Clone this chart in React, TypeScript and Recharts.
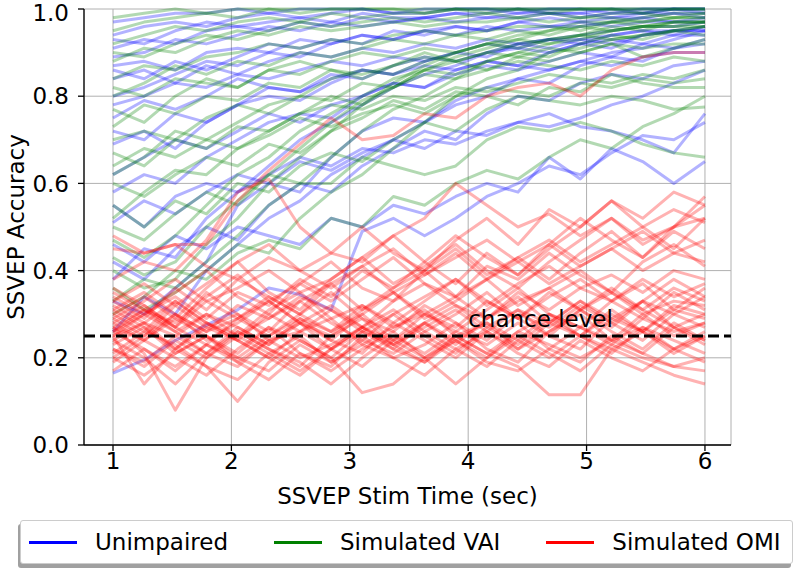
import React from 'react';
import { LineChart, Line, XAxis, YAxis, CartesianGrid, ReferenceLine, ReferenceDot } from 'recharts';

// stimulation time points (sec)
const stimTimes = [1, 1.263, 1.526, 1.789, 2.053, 2.316, 2.579, 2.842, 3.105, 3.368, 3.632, 3.895, 4.158, 4.421, 4.684, 4.947, 5.211, 5.474, 5.737, 6];
const xTicks = [1, 2, 3, 4, 5, 6];
const yTicks = [0, 0.2, 0.4, 0.6, 0.8, 1.0];
const chanceLevel = 0.25;

// one row per participant
const unimpaired = [
  [0.97, 0.98, 0.99, 0.99, 1.0, 0.99, 1.0, 1.0, 1.0, 0.99, 1.0, 1.0, 1.0, 1.0, 1.0, 1.0, 1.0, 1.0, 1.0, 1.0],
  [0.94, 0.96, 0.97, 0.96, 0.98, 0.99, 0.98, 0.99, 1.0, 0.99, 0.99, 1.0, 1.0, 0.99, 1.0, 1.0, 0.99, 1.0, 1.0, 1.0],
  [0.91, 0.93, 0.92, 0.95, 0.96, 0.95, 0.97, 0.96, 0.98, 0.97, 0.98, 0.99, 0.98, 0.99, 0.99, 0.98, 0.99, 0.99, 1.0, 0.99],
  [0.89, 0.9, 0.93, 0.92, 0.94, 0.96, 0.95, 0.97, 0.96, 0.97, 0.98, 0.97, 0.98, 0.98, 0.99, 0.99, 0.98, 0.99, 0.99, 0.98],
  [0.87, 0.88, 0.86, 0.9, 0.91, 0.9, 0.93, 0.92, 0.94, 0.93, 0.95, 0.94, 0.96, 0.95, 0.96, 0.97, 0.96, 0.97, 0.97, 0.97],
  [0.86, 0.84, 0.88, 0.86, 0.89, 0.92, 0.91, 0.93, 0.92, 0.95, 0.94, 0.96, 0.95, 0.97, 0.96, 0.96, 0.97, 0.98, 0.97, 0.98],
  [0.84, 0.86, 0.83, 0.87, 0.85, 0.88, 0.9, 0.89, 0.91, 0.9, 0.92, 0.91, 0.93, 0.92, 0.93, 0.93, 0.94, 0.95, 0.95, 0.95],
  [0.78, 0.8, 0.83, 0.82, 0.85, 0.84, 0.86, 0.88, 0.87, 0.89, 0.88, 0.9, 0.92, 0.91, 0.9, 0.92, 0.93, 0.92, 0.94, 0.94],
  [0.75, 0.79, 0.77, 0.8, 0.84, 0.82, 0.81, 0.84, 0.86, 0.85, 0.87, 0.86, 0.88, 0.87, 0.86, 0.88, 0.87, 0.89, 0.9, 0.9],
  [0.72, 0.7, 0.76, 0.74, 0.78, 0.82, 0.81, 0.85, 0.84, 0.87, 0.89, 0.88, 0.9, 0.92, 0.91, 0.93, 0.92, 0.94, 0.95, 0.95],
  [0.69, 0.72, 0.68, 0.74, 0.78, 0.8, 0.79, 0.83, 0.86, 0.85, 0.88, 0.9, 0.89, 0.92, 0.93, 0.92, 0.94, 0.95, 0.94, 0.96],
  [0.62, 0.66, 0.7, 0.68, 0.72, 0.76, 0.74, 0.78, 0.8, 0.83, 0.82, 0.85, 0.87, 0.86, 0.88, 0.9, 0.89, 0.92, 0.91, 0.93],
  [0.58, 0.62, 0.6, 0.66, 0.7, 0.74, 0.76, 0.75, 0.8, 0.83, 0.82, 0.86, 0.88, 0.87, 0.9, 0.92, 0.91, 0.94, 0.95, 0.96],
  [0.55, 0.5, 0.57, 0.6, 0.58, 0.62, 0.66, 0.64, 0.68, 0.67, 0.7, 0.69, 0.72, 0.74, 0.73, 0.75, 0.78, 0.8, 0.83, 0.86],
  [0.51, 0.56, 0.53, 0.58, 0.62, 0.6, 0.65, 0.63, 0.67, 0.7, 0.68, 0.72, 0.71, 0.74, 0.76, 0.73, 0.72, 0.7, 0.67, 0.76],
  [0.46, 0.42, 0.48, 0.45, 0.5, 0.48, 0.46, 0.52, 0.5, 0.55, 0.53, 0.57, 0.6, 0.58, 0.66, 0.61, 0.68, 0.65, 0.6, 0.65],
  [0.42, 0.38, 0.45, 0.5, 0.47, 0.55, 0.6, 0.58, 0.64, 0.68, 0.72, 0.7, 0.76, 0.8, 0.79, 0.83, 0.85, 0.84, 0.87, 0.88],
  [0.165, 0.195, 0.24, 0.275, 0.31, 0.36, 0.345, 0.31, 0.49, 0.52, 0.48, 0.52, 0.57, 0.6, 0.64, 0.62, 0.67, 0.71, 0.7, 0.74],
  [0.33, 0.3, 0.36, 0.42, 0.55, 0.6, 0.58, 0.66, 0.72, 0.75, 0.74, 0.79, 0.82, 0.84, 0.83, 0.87, 0.89, 0.88, 0.91, 0.92],
  [0.26, 0.34, 0.3, 0.4, 0.46, 0.52, 0.56, 0.62, 0.66, 0.7, 0.74, 0.78, 0.8, 0.84, 0.86, 0.88, 0.9, 0.91, 0.93, 0.95],
  [0.8, 0.82, 0.85, 0.88, 0.87, 0.9, 0.89, 0.92, 0.94, 0.93, 0.95, 0.96, 0.95, 0.97, 0.98, 0.97, 0.98, 0.98, 0.99, 0.99],
  [0.93, 0.92, 0.95, 0.97, 0.96, 0.97, 0.98, 0.97, 0.99, 0.98, 0.98, 0.99, 0.99, 1.0, 0.99, 0.99, 1.0, 0.99, 1.0, 1.0],
  [0.38, 0.45, 0.43, 0.52, 0.58, 0.64, 0.7, 0.74, 0.78, 0.82, 0.85, 0.87, 0.9, 0.91, 0.93, 0.94, 0.95, 0.96, 0.96, 0.97],
];

const simulatedVAI = [
  [0.98, 0.99, 1.0, 0.99, 1.0, 1.0, 1.0, 1.0, 1.0, 1.0, 1.0, 1.0, 1.0, 1.0, 1.0, 1.0, 1.0, 1.0, 1.0, 1.0],
  [0.95, 0.97, 0.98, 0.99, 0.98, 1.0, 0.99, 1.0, 1.0, 1.0, 0.99, 1.0, 1.0, 1.0, 1.0, 1.0, 1.0, 1.0, 1.0, 1.0],
  [0.92, 0.94, 0.96, 0.95, 0.97, 0.98, 0.97, 0.99, 0.98, 0.99, 0.99, 1.0, 0.99, 1.0, 0.99, 1.0, 1.0, 0.99, 1.0, 1.0],
  [0.9, 0.89, 0.92, 0.94, 0.93, 0.95, 0.97, 0.96, 0.97, 0.98, 0.97, 0.98, 0.99, 0.98, 0.99, 0.98, 0.99, 0.99, 0.98, 0.99],
  [0.88, 0.91, 0.9, 0.93, 0.95, 0.94, 0.96, 0.95, 0.96, 0.97, 0.96, 0.97, 0.97, 0.98, 0.97, 0.98, 0.98, 0.97, 0.98, 0.98],
  [0.84, 0.87, 0.86, 0.89, 0.9, 0.92, 0.91, 0.93, 0.92, 0.94, 0.95, 0.94, 0.95, 0.96, 0.96, 0.95, 0.97, 0.96, 0.97, 0.97],
  [0.8, 0.83, 0.87, 0.85, 0.88, 0.87, 0.9, 0.89, 0.91, 0.93, 0.92, 0.94, 0.93, 0.95, 0.94, 0.96, 0.95, 0.96, 0.96, 0.96],
  [0.77, 0.74, 0.8, 0.84, 0.82, 0.86, 0.85, 0.88, 0.9, 0.89, 0.91, 0.9, 0.92, 0.93, 0.92, 0.94, 0.93, 0.94, 0.95, 0.94],
  [0.73, 0.78, 0.76, 0.8, 0.79, 0.83, 0.82, 0.86, 0.85, 0.87, 0.89, 0.88, 0.9, 0.89, 0.91, 0.9, 0.92, 0.91, 0.92, 0.92],
  [0.7, 0.72, 0.7, 0.75, 0.78, 0.76, 0.8, 0.79, 0.83, 0.82, 0.85, 0.84, 0.86, 0.88, 0.87, 0.86, 0.88, 0.87, 0.89, 0.88],
  [0.67, 0.64, 0.7, 0.68, 0.73, 0.72, 0.76, 0.78, 0.77, 0.8, 0.79, 0.82, 0.81, 0.83, 0.85, 0.84, 0.83, 0.85, 0.84, 0.86],
  [0.64, 0.68, 0.66, 0.7, 0.68, 0.71, 0.75, 0.73, 0.76, 0.78, 0.76, 0.8, 0.82, 0.81, 0.8, 0.83, 0.82, 0.84, 0.83, 0.84],
  [0.6, 0.57, 0.62, 0.66, 0.64, 0.69, 0.67, 0.72, 0.75, 0.79, 0.77, 0.81, 0.8, 0.78, 0.82, 0.81, 0.85, 0.83, 0.82, 0.82],
  [0.55, 0.5, 0.56, 0.53, 0.6, 0.58, 0.64, 0.67, 0.65, 0.7, 0.74, 0.72, 0.77, 0.8, 0.79, 0.78, 0.8, 0.79, 0.77, 0.775],
  [0.5, 0.47, 0.53, 0.58, 0.55, 0.62, 0.6, 0.6, 0.66, 0.64, 0.62, 0.64, 0.7, 0.73, 0.72, 0.74, 0.72, 0.69, 0.67, 0.66],
  [0.47, 0.43, 0.48, 0.55, 0.62, 0.66, 0.72, 0.76, 0.8, 0.84, 0.86, 0.88, 0.9, 0.92, 0.93, 0.94, 0.95, 0.96, 0.97, 0.97],
  [0.43, 0.39, 0.42, 0.5, 0.56, 0.62, 0.68, 0.74, 0.79, 0.82, 0.86, 0.89, 0.91, 0.93, 0.95, 0.96, 0.97, 0.97, 0.98, 0.98],
  [0.4, 0.36, 0.38, 0.46, 0.52, 0.6, 0.66, 0.72, 0.78, 0.83, 0.87, 0.9, 0.92, 0.94, 0.95, 0.97, 0.97, 0.98, 0.99, 0.99],
  [0.36, 0.31, 0.35, 0.4, 0.46, 0.44, 0.52, 0.58, 0.62, 0.68, 0.74, 0.8, 0.84, 0.86, 0.9, 0.91, 0.93, 0.94, 0.95, 0.96],
  [0.33, 0.38, 0.36, 0.42, 0.48, 0.55, 0.6, 0.66, 0.72, 0.77, 0.8, 0.84, 0.88, 0.9, 0.92, 0.93, 0.95, 0.96, 0.96, 0.97],
  [0.3, 0.34, 0.4, 0.38, 0.44, 0.47, 0.45, 0.52, 0.5, 0.57, 0.55, 0.6, 0.63, 0.61, 0.66, 0.7, 0.68, 0.73, 0.76, 0.8],
  [0.82, 0.8, 0.84, 0.83, 0.82, 0.86, 0.88, 0.86, 0.84, 0.87, 0.9, 0.88, 0.86, 0.89, 0.88, 0.9, 0.92, 0.89, 0.91, 0.93],
  [0.62, 0.66, 0.72, 0.7, 0.74, 0.78, 0.8, 0.84, 0.86, 0.85, 0.88, 0.9, 0.92, 0.91, 0.93, 0.94, 0.96, 0.95, 0.97, 0.97],
  [0.52, 0.58, 0.63, 0.62, 0.68, 0.72, 0.76, 0.8, 0.78, 0.82, 0.86, 0.85, 0.88, 0.9, 0.89, 0.92, 0.94, 0.93, 0.95, 0.96],
];

const simulatedOMI = [
  [0.25, 0.28, 0.22, 0.27, 0.3, 0.24, 0.26, 0.29, 0.23, 0.27, 0.31, 0.25, 0.28, 0.24, 0.3, 0.27, 0.23, 0.29, 0.26, 0.28],
  [0.3, 0.26, 0.33, 0.28, 0.25, 0.31, 0.35, 0.29, 0.32, 0.27, 0.3, 0.34, 0.29, 0.33, 0.36, 0.31, 0.35, 0.3, 0.33, 0.32],
  [0.22, 0.19, 0.25, 0.21, 0.18, 0.24, 0.2, 0.23, 0.27, 0.22, 0.19, 0.25, 0.21, 0.26, 0.23, 0.2, 0.24, 0.27, 0.22, 0.25],
  [0.28, 0.32, 0.27, 0.35, 0.3, 0.26, 0.33, 0.37, 0.31, 0.36, 0.4, 0.34, 0.38, 0.42, 0.37, 0.41, 0.45, 0.4, 0.44, 0.47],
  [0.33, 0.29, 0.36, 0.31, 0.38, 0.34, 0.3, 0.37, 0.41, 0.35, 0.39, 0.44, 0.38, 0.43, 0.47, 0.42, 0.46, 0.5, 0.45, 0.52],
  [0.19, 0.24, 0.2, 0.16, 0.22, 0.27, 0.21, 0.18, 0.25, 0.2, 0.23, 0.28, 0.22, 0.19, 0.26, 0.3, 0.24, 0.21, 0.27, 0.23],
  [0.26, 0.22, 0.17, 0.23, 0.2, 0.25, 0.29, 0.24, 0.21, 0.28, 0.24, 0.2, 0.26, 0.31, 0.25, 0.22, 0.29, 0.33, 0.27, 0.3],
  [0.35, 0.31, 0.28, 0.34, 0.39, 0.33, 0.37, 0.42, 0.36, 0.33, 0.4, 0.45, 0.39, 0.43, 0.38, 0.44, 0.49, 0.43, 0.5, 0.55],
  [0.27, 0.24, 0.3, 0.26, 0.29, 0.33, 0.28, 0.25, 0.31, 0.35, 0.3, 0.27, 0.33, 0.29, 0.34, 0.38, 0.33, 0.37, 0.31, 0.36],
  [0.21, 0.26, 0.23, 0.18, 0.15, 0.21, 0.25, 0.19, 0.23, 0.2, 0.16, 0.22, 0.26, 0.21, 0.18, 0.24, 0.2, 0.17, 0.22, 0.19],
  [0.24, 0.2, 0.14, 0.21, 0.26, 0.22, 0.19, 0.14, 0.2, 0.25, 0.21, 0.26, 0.23, 0.28, 0.22, 0.27, 0.24, 0.3, 0.25, 0.28],
  [0.31, 0.35, 0.3, 0.26, 0.32, 0.29, 0.34, 0.31, 0.27, 0.33, 0.37, 0.32, 0.29, 0.35, 0.31, 0.36, 0.33, 0.38, 0.34, 0.37],
  [0.48, 0.44, 0.46, 0.41, 0.38, 0.43, 0.4, 0.36, 0.41, 0.45, 0.39, 0.43, 0.47, 0.42, 0.46, 0.41, 0.45, 0.49, 0.44, 0.42],
  [0.29, 0.33, 0.38, 0.33, 0.36, 0.4, 0.35, 0.38, 0.43, 0.37, 0.41, 0.46, 0.4, 0.36, 0.42, 0.47, 0.52, 0.46, 0.5, 0.57],
  [0.23, 0.27, 0.21, 0.25, 0.19, 0.24, 0.28, 0.22, 0.26, 0.3, 0.25, 0.21, 0.27, 0.23, 0.29, 0.25, 0.3, 0.26, 0.22, 0.26],
  [0.32, 0.28, 0.25, 0.3, 0.27, 0.23, 0.29, 0.26, 0.3, 0.24, 0.28, 0.32, 0.27, 0.31, 0.28, 0.33, 0.29, 0.26, 0.31, 0.29],
  [0.2, 0.16, 0.21, 0.25, 0.2, 0.17, 0.23, 0.19, 0.24, 0.21, 0.26, 0.22, 0.18, 0.24, 0.2, 0.25, 0.22, 0.19, 0.16, 0.14],
  [0.26, 0.31, 0.27, 0.23, 0.29, 0.34, 0.3, 0.26, 0.32, 0.28, 0.33, 0.38, 0.32, 0.37, 0.41, 0.36, 0.39, 0.35, 0.4, 0.38],
  [0.34, 0.3, 0.35, 0.4, 0.34, 0.3, 0.37, 0.33, 0.38, 0.43, 0.37, 0.34, 0.41, 0.38, 0.44, 0.39, 0.35, 0.42, 0.46, 0.41],
  [0.28, 0.24, 0.29, 0.25, 0.21, 0.27, 0.24, 0.2, 0.26, 0.23, 0.28, 0.24, 0.2, 0.26, 0.3, 0.25, 0.21, 0.27, 0.24, 0.21],
  [0.25, 0.3, 0.26, 0.21, 0.27, 0.23, 0.28, 0.32, 0.27, 0.24, 0.3, 0.26, 0.31, 0.36, 0.3, 0.27, 0.33, 0.29, 0.35, 0.31],
  [0.3, 0.34, 0.29, 0.36, 0.42, 0.35, 0.31, 0.38, 0.43, 0.48, 0.42, 0.37, 0.44, 0.39, 0.46, 0.52, 0.47, 0.43, 0.49, 0.45],
  [0.17, 0.22, 0.18, 0.23, 0.19, 0.15, 0.21, 0.17, 0.22, 0.26, 0.2, 0.24, 0.19, 0.17, 0.22, 0.19, 0.25, 0.21, 0.18, 0.2],
  [0.36, 0.32, 0.27, 0.33, 0.29, 0.25, 0.3, 0.35, 0.29, 0.26, 0.32, 0.28, 0.24, 0.3, 0.27, 0.32, 0.28, 0.33, 0.3, 0.34],
  [0.22, 0.18, 0.24, 0.2, 0.26, 0.22, 0.18, 0.25, 0.29, 0.23, 0.27, 0.31, 0.26, 0.22, 0.28, 0.33, 0.28, 0.24, 0.3, 0.27],
  [0.27, 0.31, 0.26, 0.3, 0.25, 0.29, 0.33, 0.28, 0.24, 0.3, 0.34, 0.38, 0.33, 0.29, 0.35, 0.31, 0.27, 0.33, 0.38, 0.34],
  [0.29, 0.25, 0.32, 0.27, 0.24, 0.3, 0.26, 0.22, 0.27, 0.31, 0.26, 0.3, 0.35, 0.29, 0.25, 0.31, 0.36, 0.31, 0.27, 0.24],
  [0.24, 0.28, 0.33, 0.28, 0.24, 0.2, 0.26, 0.31, 0.26, 0.22, 0.28, 0.23, 0.29, 0.34, 0.28, 0.25, 0.31, 0.26, 0.32, 0.3],
  [0.33, 0.37, 0.32, 0.37, 0.42, 0.46, 0.4, 0.44, 0.5, 0.44, 0.4, 0.47, 0.52, 0.46, 0.54, 0.5, 0.56, 0.52, 0.58, 0.55],
  [0.2, 0.25, 0.3, 0.24, 0.28, 0.33, 0.28, 0.24, 0.3, 0.35, 0.29, 0.33, 0.38, 0.32, 0.36, 0.4, 0.35, 0.31, 0.36, 0.33],
  [0.45, 0.44, 0.46, 0.46, 0.56, 0.63, 0.69, 0.75, 0.7, 0.71, 0.76, 0.75, 0.8, 0.82, 0.83, 0.8, 0.86, 0.89, 0.9, 0.9],
  [0.38, 0.42, 0.4, 0.47, 0.58, 0.61, 0.5, 0.44, 0.42, 0.48, 0.52, 0.6, 0.55, 0.5, 0.53, 0.48, 0.52, 0.47, 0.5, 0.52],
  [0.27, 0.21, 0.08, 0.2, 0.25, 0.21, 0.17, 0.22, 0.27, 0.23, 0.19, 0.24, 0.28, 0.22, 0.26, 0.31, 0.26, 0.22, 0.28, 0.24],
  [0.25, 0.14, 0.22, 0.18, 0.1, 0.19, 0.24, 0.2, 0.12, 0.14, 0.2, 0.25, 0.21, 0.18, 0.115, 0.115, 0.22, 0.26, 0.21, 0.25],
  [0.31, 0.27, 0.22, 0.28, 0.24, 0.2, 0.16, 0.22, 0.18, 0.24, 0.2, 0.14, 0.2, 0.25, 0.21, 0.17, 0.23, 0.2, 0.18, 0.17],
  [0.26, 0.3, 0.34, 0.29, 0.35, 0.32, 0.38, 0.34, 0.4, 0.36, 0.42, 0.48, 0.43, 0.39, 0.45, 0.5, 0.56, 0.5, 0.54, 0.51],
];

const groups = [
  { key: 'u', name: 'Unimpaired', color: '#0000ff', rows: unimpaired },
  { key: 'v', name: 'Simulated VAI', color: '#008000', rows: simulatedVAI },
  { key: 'o', name: 'Simulated OMI', color: '#ff0000', rows: simulatedOMI },
];

const chartData = stimTimes.map((t, i) => {
  const row: Record<string, number> = { t };
  groups.forEach((g) => g.rows.forEach((r, j) => (row[`${g.key}${j}`] = r[i])));
  return row;
});

const font = 'DejaVu Sans, sans-serif';
const tickStyle = { fontFamily: font, fontSize: 23, fill: '#000' };

const ChanceLabel = (props: any) => {
  const { viewBox } = props;
  return (
    <text x={viewBox.x} y={viewBox.y} fontFamily={font} fontSize={23} fill="#000">
      chance level
    </text>
  );
};

export default function App() {
  return (
    <div style={{ position: 'absolute', left: 0, top: 0, width: 800, height: 569, background: '#fff' }}>
      <LineChart width={800} height={510} data={chartData} margin={{ top: 9, right: 69, bottom: 0, left: 0 }}>
        <CartesianGrid stroke="#b0b0b0" strokeWidth={1} />
        <XAxis
          dataKey="t"
          type="number"
          domain={[0.755, 6.22]}
          ticks={xTicks}
          height={65}
          tick={tickStyle}
          tickSize={6}
          tickLine={{ stroke: '#000', strokeWidth: 1.3 }}
          axisLine={{ stroke: '#000', strokeWidth: 1.3 }}
          label={{ value: 'SSVEP Stim Time (sec)', position: 'insideBottom', offset: 6, style: { ...tickStyle, textAnchor: 'middle' } }}
        />
        <XAxis xAxisId="top" orientation="top" type="number" domain={[0.755, 6.22]} height={0} tick={false} tickLine={false} axisLine={{ stroke: '#000', strokeWidth: 1.3 }} />
        <YAxis
          type="number"
          domain={[0, 1]}
          ticks={yTicks}
          width={84}
          tick={tickStyle}
          tickSize={6}
          tickMargin={9}
          tickFormatter={(v: number) => v.toFixed(1)}
          tickLine={{ stroke: '#000', strokeWidth: 1.3 }}
          axisLine={{ stroke: '#000', strokeWidth: 1.3 }}
          label={{ value: 'SSVEP Accuracy', angle: -90, position: 'insideLeft', offset: 16, style: { ...tickStyle, textAnchor: 'middle' } }}
        />
        <YAxis yAxisId="right" orientation="right" type="number" domain={[0, 1]} width={0} tick={false} tickLine={false} axisLine={{ stroke: '#000', strokeWidth: 1.3 }} />
        {groups.map((g) =>
          g.rows.map((_, j) => (
            <Line
              key={`${g.key}${j}`}
              dataKey={`${g.key}${j}`}
              stroke={g.color}
              strokeOpacity={0.3}
              strokeWidth={3}
              strokeLinejoin="round"
              dot={false}
              activeDot={false}
              isAnimationActive={false}
            />
          ))
        )}
        <ReferenceLine y={chanceLevel} stroke="#000" strokeWidth={3} strokeDasharray="11 5" />
        <ReferenceDot x={4} y={0.27} r={0} fill="none" stroke="none" label={<ChanceLabel />} />
      </LineChart>
      <div
        style={{
          position: 'absolute',
          left: 20,
          top: 520,
          width: 773,
          height: 44,
          border: '1px solid #cccccc',
          borderRadius: 3,
          boxShadow: '-2px 4px 0 #a0a0a0',
          background: '#fff',
          display: 'flex',
          alignItems: 'center',
          fontFamily: font,
          fontSize: 23,
          boxSizing: 'border-box',
        }}
      >
        {groups.map((g, i) => (
          <div key={g.key} style={{ display: 'flex', alignItems: 'center', marginLeft: i === 0 ? 8 : 46 }}>
            <span style={{ display: 'inline-block', width: 48, height: 3, background: g.color, marginRight: 18 }} />
            <span>{g.name}</span>
          </div>
        ))}
      </div>
    </div>
  );
}
